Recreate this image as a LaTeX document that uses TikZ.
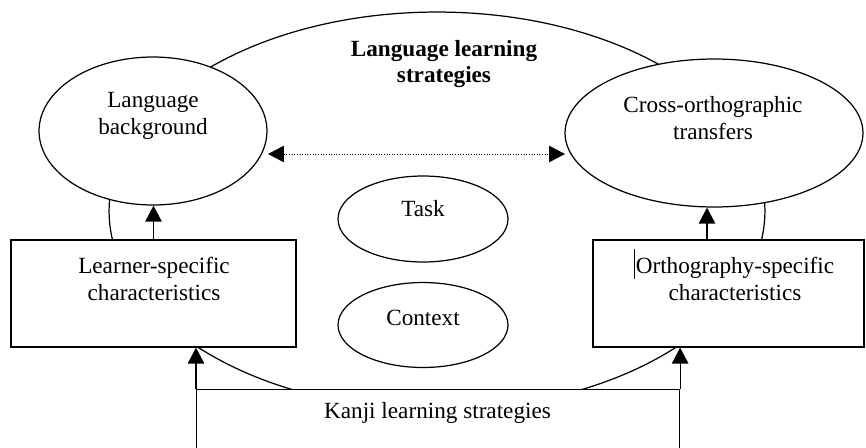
\documentclass[tikz,border=0pt]{standalone}
\usepackage{fontspec}
\setmainfont{Liberation Serif}
\usetikzlibrary{arrows.meta, shapes.geometric, positioning}

\begin{document}
\begin{tikzpicture}[x=0.02cm, y=-0.02cm, >={Triangle[length=0.32cm,width=0.33cm]},
	line width=0.7pt, font=\fontsize{13.2}{15}\selectfont,
	oval/.style={draw, ellipse, fill=white, inner sep=0pt},
	boxnode/.style={draw, rectangle, fill=white, inner sep=0pt},
	txt/.style={align=center, inner sep=0pt}]
	
	\useasboundingbox (0,0) rectangle (866,447);
	
	% ===============================
	% outer oval: language learning strategies
	% ===============================
	\node[oval, fill=none, minimum width=13.12cm, minimum height=7.96cm] (strategies) at (437,211) {};
	\node[txt, font=\fontsize{13.2}{15}\selectfont\bfseries] (strattext) at (444,64) {Language learning\\strategies};
	
	% ---- top ovals ----
	\node[oval, minimum width=4.56cm, minimum height=2.96cm] (langbg) at (153,131) {};
	\node[txt] (langbgtext) at (153,116) {Language\\background};
	
	\node[oval, minimum width=5.96cm, minimum height=2.96cm] (crossorth) at (714,133) {};
	\node[txt] (crossorthtext) at (713,118) {Cross-orthographic\\transfers};
	
	% ---- inner ovals ----
	\node[oval, minimum width=3.4cm, minimum height=1.72cm] (task) at (423,219) {};
	\node[txt] (tasktext) at (423,209) {Task};
	
	\node[oval, minimum width=3.4cm, minimum height=1.7cm] (context) at (423,325) {};
	\node[txt] (contexttext) at (423,318) {Context};
	
	% ---- side boxes ----
	\node[boxnode, minimum width=5.7cm, minimum height=2.14cm] (learner) at (153.5,293.5) {};
	\node[txt] (learnertext) at (154,279) {Learner-specific\\characteristics};
	
	\node[boxnode, minimum width=5.42cm, minimum height=2.14cm] (ortho) at (728.5,293.5) {};
	\node[txt] (orthotext) at (735,279) {Orthography-specific\\characteristics};
	\draw[line width=0.4pt] (634,249) -- (634,279); % caret mark
	
	% ---- bottom box ----
	\node[boxnode, minimum width=9.66cm, minimum height=2cm, anchor=north west] (kanji) at (196,389) {};
	\node[txt] (kanjitext) at (437.5,413) {Kanji learning strategies};
	
	% ===============================
	% arrows
	% ===============================
	\draw[->] (learner.north) -- (learner.north |- langbg.south);
	\coordinate (orthoup) at (707,240);
	\draw[->] (orthoup) -- (orthoup |- crossorth.south);
	
	\draw[->] (kanji.north west) -- (kanji.north west |- learner.south);
	\draw[->] (kanji.north east) -- (kanji.north east |- ortho.south);
	
	% dotted two-way link
	\coordinate (dotl) at (268,154);
	\coordinate (dotr) at (565,154);
	\draw[<->, densely dotted, line width=0.5pt] (dotl) -- (dotr);
	
\end{tikzpicture}
\end{document}
